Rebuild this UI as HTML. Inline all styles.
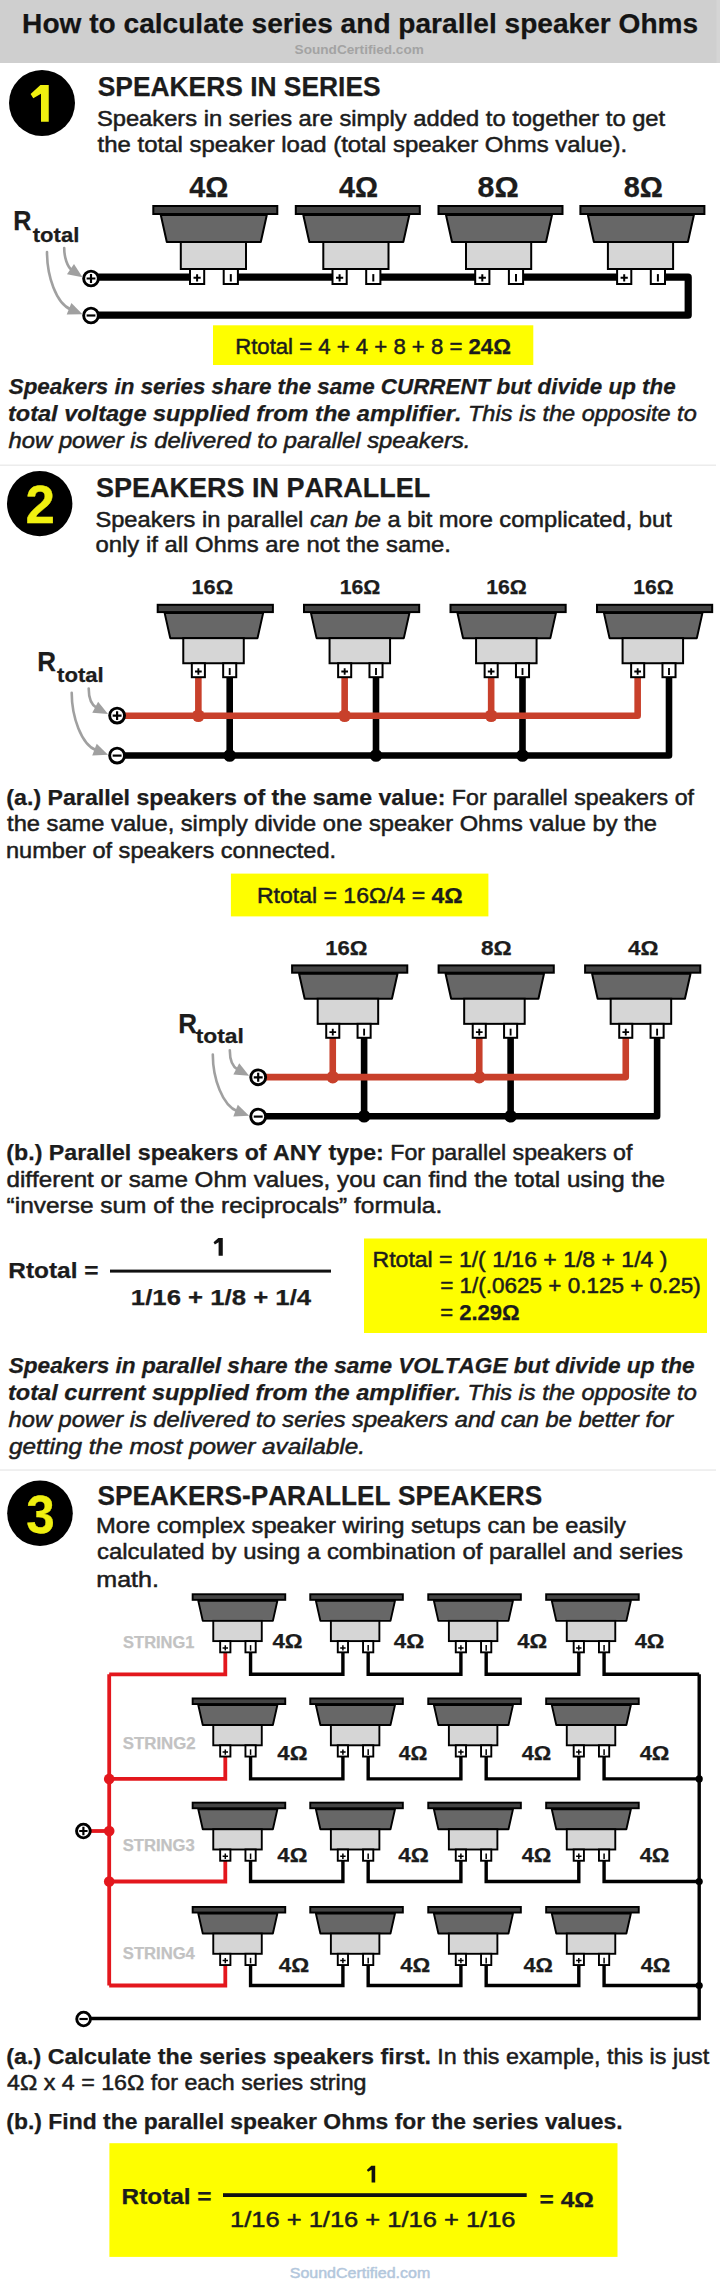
<!DOCTYPE html>
<html><head><meta charset="utf-8"><style>
html,body{margin:0;padding:0;background:#fff;}
svg{display:block;}
text{font-family:"Liberation Sans", sans-serif;font-kerning:none;white-space:pre;}
</style></head><body>
<svg width="720" height="2283" viewBox="0 0 720 2283">
<rect width="720" height="2283" fill="#fff"/>
<rect x="0" y="0" width="720.00" height="63.00" fill="#cfcfcf"/>
<rect x="716.5" y="0" width="3.50" height="63.00" fill="#d5d5d5"/>
<text x="22.12" y="32.60" font-size="27" textLength="676.03" lengthAdjust="spacingAndGlyphs" fill="#141414" font-weight="bold" stroke="#141414" stroke-width="0.25" stroke-linejoin="round">How to calculate series and parallel speaker Ohms</text>
<text x="294.61" y="54.40" font-size="13.6" textLength="129.24" lengthAdjust="spacingAndGlyphs" fill="#a3a3a3" font-weight="bold">SoundCertified.com</text>
<circle cx="42" cy="103" r="33" fill="#000"/>
<polygon points="40.41,85.00 48.74,85.00 48.74,121.70 41.00,121.70 41.00,93.70 33.29,98.21 30.61,93.99" fill="#f0f010"/>
<text x="97.74" y="95.80" font-size="27.5" textLength="282.89" lengthAdjust="spacingAndGlyphs" fill="#1c1c1c" font-weight="bold" stroke="#1c1c1c" stroke-width="0.25" stroke-linejoin="round">SPEAKERS IN SERIES</text>
<text x="96.92" y="125.60" font-size="22" textLength="568.25" lengthAdjust="spacingAndGlyphs" fill="#1c1c1c" stroke="#1c1c1c" stroke-width="0.5" stroke-linejoin="round">Speakers in series are simply added to together to get</text>
<text x="97.64" y="151.60" font-size="22" textLength="529.55" lengthAdjust="spacingAndGlyphs" fill="#1c1c1c" stroke="#1c1c1c" stroke-width="0.5" stroke-linejoin="round">the total speaker load (total speaker Ohms value).</text>
<path d="M91.00 277.20 L197.10 277.20" fill="none" stroke="#000" stroke-width="7.2" stroke-linecap="butt" stroke-linejoin="round"/>
<path d="M230.80 277.20 L339.60 277.20" fill="none" stroke="#000" stroke-width="7.2" stroke-linecap="butt" stroke-linejoin="round"/>
<path d="M373.30 277.20 L482.30 277.20" fill="none" stroke="#000" stroke-width="7.2" stroke-linecap="butt" stroke-linejoin="round"/>
<path d="M516.00 277.20 L624.20 277.20" fill="none" stroke="#000" stroke-width="7.2" stroke-linecap="butt" stroke-linejoin="round"/>
<path d="M657.90 277.20 L688.20 277.20 L688.20 315.20 L91.00 315.20" fill="none" stroke="#000" stroke-width="7.2" stroke-linecap="butt" stroke-linejoin="round"/>
<g><polygon points="160.80,215.00 266.80,215.00 260.80,242.00 166.80,242.00" fill="#676767" stroke="#000" stroke-width="2.0" stroke-linejoin="round"/><rect x="153.30" y="206.00" width="124.00" height="8.00" fill="#444444" stroke="#000" stroke-width="2.0"/><rect x="180.80" y="242.00" width="65.20" height="27.00" fill="#d6d6d6" stroke="#000" stroke-width="2.0"/><rect x="190.00" y="269.00" width="14.20" height="15.00" fill="#fff" stroke="#000" stroke-width="2.0"/><path d="M193.50 277.80H200.70M197.10 274.20V281.40" stroke="#000" stroke-width="2.00"/><rect x="223.70" y="269.00" width="14.20" height="15.00" fill="#fff" stroke="#000" stroke-width="2.0"/><path d="M230.80 274.10V281.50" stroke="#000" stroke-width="2.00"/></g>
<g><polygon points="303.30,215.00 409.30,215.00 403.30,242.00 309.30,242.00" fill="#676767" stroke="#000" stroke-width="2.0" stroke-linejoin="round"/><rect x="295.80" y="206.00" width="124.00" height="8.00" fill="#444444" stroke="#000" stroke-width="2.0"/><rect x="323.30" y="242.00" width="65.20" height="27.00" fill="#d6d6d6" stroke="#000" stroke-width="2.0"/><rect x="332.50" y="269.00" width="14.20" height="15.00" fill="#fff" stroke="#000" stroke-width="2.0"/><path d="M336.00 277.80H343.20M339.60 274.20V281.40" stroke="#000" stroke-width="2.00"/><rect x="366.20" y="269.00" width="14.20" height="15.00" fill="#fff" stroke="#000" stroke-width="2.0"/><path d="M373.30 274.10V281.50" stroke="#000" stroke-width="2.00"/></g>
<g><polygon points="446.00,215.00 552.00,215.00 546.00,242.00 452.00,242.00" fill="#676767" stroke="#000" stroke-width="2.0" stroke-linejoin="round"/><rect x="438.50" y="206.00" width="124.00" height="8.00" fill="#444444" stroke="#000" stroke-width="2.0"/><rect x="466.00" y="242.00" width="65.20" height="27.00" fill="#d6d6d6" stroke="#000" stroke-width="2.0"/><rect x="475.20" y="269.00" width="14.20" height="15.00" fill="#fff" stroke="#000" stroke-width="2.0"/><path d="M478.70 277.80H485.90M482.30 274.20V281.40" stroke="#000" stroke-width="2.00"/><rect x="508.90" y="269.00" width="14.20" height="15.00" fill="#fff" stroke="#000" stroke-width="2.0"/><path d="M516.00 274.10V281.50" stroke="#000" stroke-width="2.00"/></g>
<g><polygon points="587.90,215.00 693.90,215.00 687.90,242.00 593.90,242.00" fill="#676767" stroke="#000" stroke-width="2.0" stroke-linejoin="round"/><rect x="580.40" y="206.00" width="124.00" height="8.00" fill="#444444" stroke="#000" stroke-width="2.0"/><rect x="607.90" y="242.00" width="65.20" height="27.00" fill="#d6d6d6" stroke="#000" stroke-width="2.0"/><rect x="617.10" y="269.00" width="14.20" height="15.00" fill="#fff" stroke="#000" stroke-width="2.0"/><path d="M620.60 277.80H627.80M624.20 274.20V281.40" stroke="#000" stroke-width="2.00"/><rect x="650.80" y="269.00" width="14.20" height="15.00" fill="#fff" stroke="#000" stroke-width="2.0"/><path d="M657.90 274.10V281.50" stroke="#000" stroke-width="2.00"/></g>
<circle cx="91" cy="278.5" r="7.35" fill="#fff" stroke="#000" stroke-width="2.9"/>
<path d="M86.60 278.5H95.40M91 274.10V282.90" stroke="#000" stroke-width="2.17"/>
<circle cx="91" cy="315.5" r="7.35" fill="#fff" stroke="#000" stroke-width="2.9"/>
<path d="M86.60 315.5H95.40" stroke="#000" stroke-width="2.17"/>
<text x="189.36" y="197.00" font-size="28.6" textLength="39.10" lengthAdjust="spacingAndGlyphs" fill="#1c1c1c" font-weight="bold" stroke="#1c1c1c" stroke-width="0.25" stroke-linejoin="round">4Ω</text>
<text x="339.06" y="197.00" font-size="28.6" textLength="39.10" lengthAdjust="spacingAndGlyphs" fill="#1c1c1c" font-weight="bold" stroke="#1c1c1c" stroke-width="0.25" stroke-linejoin="round">4Ω</text>
<text x="477.54" y="197.00" font-size="28.6" textLength="41.19" lengthAdjust="spacingAndGlyphs" fill="#1c1c1c" font-weight="bold" stroke="#1c1c1c" stroke-width="0.25" stroke-linejoin="round">8Ω</text>
<text x="623.68" y="197.00" font-size="28.6" textLength="39.19" lengthAdjust="spacingAndGlyphs" fill="#1c1c1c" font-weight="bold" stroke="#1c1c1c" stroke-width="0.25" stroke-linejoin="round">8Ω</text>
<text x="13.31" y="230.40" font-size="28" textLength="18.20" lengthAdjust="spacingAndGlyphs" fill="#1c1c1c" font-weight="bold" stroke="#1c1c1c" stroke-width="0.25" stroke-linejoin="round">R</text>
<text x="32.73" y="241.80" font-size="20" textLength="46.63" lengthAdjust="spacingAndGlyphs" fill="#1c1c1c" font-weight="bold" stroke="#1c1c1c" stroke-width="0.25" stroke-linejoin="round">total</text>
<path d="M64.20 248.00 C64.20 257.00 67.16 266.85 72.14 270.21" fill="none" stroke="#a0a0a0" stroke-width="2.6" stroke-linecap="round"/>
<polygon points="82.50,277.20 66.98,274.27 73.97,263.91" fill="#a0a0a0"/>
<path d="M47.00 252.00 C47.00 276.00 56.08 303.52 70.91 309.52" fill="none" stroke="#a0a0a0" stroke-width="2.6" stroke-linecap="round"/>
<polygon points="82.50,314.20 66.71,314.56 71.40,302.97" fill="#a0a0a0"/>
<rect x="213" y="325.3" width="320.30" height="39.70" fill="#fefe00"/>
<text x="235.18" y="354.00" font-size="22.5" textLength="227.17" lengthAdjust="spacingAndGlyphs" fill="#1c1c1c" stroke="#1c1c1c" stroke-width="0.5" stroke-linejoin="round">Rtotal = 4 + 4 + 8 + 8 =</text>
<text x="468.51" y="354.00" font-size="22.5" textLength="42.39" lengthAdjust="spacingAndGlyphs" fill="#1c1c1c" font-weight="bold" stroke="#1c1c1c" stroke-width="0.25" stroke-linejoin="round">24Ω</text>
<text x="8.73" y="393.90" font-size="22" textLength="666.90" lengthAdjust="spacingAndGlyphs" fill="#1c1c1c" font-weight="bold" font-style="italic" stroke="#1c1c1c" stroke-width="0.25" stroke-linejoin="round">Speakers in series share the same CURRENT but divide up the</text>
<text x="8.01" y="420.80" font-size="22" textLength="453.43" lengthAdjust="spacingAndGlyphs" fill="#1c1c1c" font-weight="bold" font-style="italic" stroke="#1c1c1c" stroke-width="0.25" stroke-linejoin="round">total voltage supplied from the amplifier.</text>
<text x="467.98" y="420.80" font-size="22" textLength="228.77" lengthAdjust="spacingAndGlyphs" fill="#1c1c1c" font-style="italic" stroke="#1c1c1c" stroke-width="0.5" stroke-linejoin="round">This is the opposite to</text>
<text x="8.60" y="448.00" font-size="22" textLength="461.81" lengthAdjust="spacingAndGlyphs" fill="#1c1c1c" font-style="italic" stroke="#1c1c1c" stroke-width="0.5" stroke-linejoin="round">how power is delivered to parallel speakers.</text>
<rect x="0" y="464.5" width="716.00" height="1.50" fill="#ececec"/>
<circle cx="39.7" cy="503.6" r="32.7" fill="#000"/>
<text x="25.56" y="522.60" font-size="53.63372093023256" textLength="29.46" lengthAdjust="spacingAndGlyphs" fill="#f0f010" font-weight="bold" stroke="#f0f010" stroke-width="0.3" stroke-linejoin="round">2</text>
<text x="95.92" y="496.70" font-size="27.5" textLength="334.41" lengthAdjust="spacingAndGlyphs" fill="#1c1c1c" font-weight="bold" stroke="#1c1c1c" stroke-width="0.25" stroke-linejoin="round">SPEAKERS IN PARALLEL</text>
<text x="95.43" y="526.70" font-size="22" textLength="207.91" lengthAdjust="spacingAndGlyphs" fill="#1c1c1c" stroke="#1c1c1c" stroke-width="0.5" stroke-linejoin="round">Speakers in parallel</text>
<text x="309.91" y="526.70" font-size="22" textLength="71.08" lengthAdjust="spacingAndGlyphs" fill="#1c1c1c" font-style="italic" stroke="#1c1c1c" stroke-width="0.5" stroke-linejoin="round">can be</text>
<text x="387.56" y="526.70" font-size="22" textLength="284.21" lengthAdjust="spacingAndGlyphs" fill="#1c1c1c" stroke="#1c1c1c" stroke-width="0.5" stroke-linejoin="round">a bit more complicated, but</text>
<text x="95.50" y="552.30" font-size="22" textLength="355.48" lengthAdjust="spacingAndGlyphs" fill="#1c1c1c" stroke="#1c1c1c" stroke-width="0.5" stroke-linejoin="round">only if all Ohms are not the same.</text>
<path d="M229.70 677.20 L229.70 755.50" fill="none" stroke="#000" stroke-width="6.6" stroke-linecap="butt" stroke-linejoin="round"/>
<path d="M376.00 677.20 L376.00 755.50" fill="none" stroke="#000" stroke-width="6.6" stroke-linecap="butt" stroke-linejoin="round"/>
<path d="M522.50 677.20 L522.50 755.50" fill="none" stroke="#000" stroke-width="6.6" stroke-linecap="butt" stroke-linejoin="round"/>
<path d="M117.10 755.50 L669.00 755.50 L669.00 677.20" fill="none" stroke="#000" stroke-width="6.6" stroke-linecap="butt" stroke-linejoin="round"/>
<path d="M198.36 677.20 L198.36 715.80" fill="none" stroke="#c8402b" stroke-width="6.6" stroke-linecap="butt" stroke-linejoin="round"/>
<path d="M344.66 677.20 L344.66 715.80" fill="none" stroke="#c8402b" stroke-width="6.6" stroke-linecap="butt" stroke-linejoin="round"/>
<path d="M491.16 677.20 L491.16 715.80" fill="none" stroke="#c8402b" stroke-width="6.6" stroke-linecap="butt" stroke-linejoin="round"/>
<path d="M117.10 715.80 L637.66 715.80 L637.66 677.20" fill="none" stroke="#c8402b" stroke-width="6.6" stroke-linecap="butt" stroke-linejoin="round"/>
<circle cx="198.36" cy="715.80" r="6.3" fill="#c8402b"/>
<circle cx="344.66" cy="715.80" r="6.3" fill="#c8402b"/>
<circle cx="491.16" cy="715.80" r="6.3" fill="#c8402b"/>
<circle cx="229.70" cy="755.50" r="6.3" fill="#000"/>
<circle cx="376.00" cy="755.50" r="6.3" fill="#000"/>
<circle cx="522.50" cy="755.50" r="6.3" fill="#000"/>
<g><polygon points="164.67,613.10 263.12,613.10 257.53,638.14 170.25,638.14" fill="#676767" stroke="#000" stroke-width="2.0" stroke-linejoin="round"/><rect x="157.70" y="604.80" width="115.18" height="7.30" fill="#444444" stroke="#000" stroke-width="2.0"/><rect x="183.27" y="638.14" width="60.50" height="25.11" fill="#d6d6d6" stroke="#000" stroke-width="2.0"/><rect x="191.83" y="663.25" width="13.07" height="13.95" fill="#fff" stroke="#000" stroke-width="2.0"/><path d="M195.02 671.50H201.71M198.36 668.16V674.85" stroke="#000" stroke-width="1.86"/><rect x="223.17" y="663.25" width="13.07" height="13.95" fill="#fff" stroke="#000" stroke-width="2.0"/><path d="M229.70 668.06V674.94" stroke="#000" stroke-width="1.86"/></g>
<g><polygon points="310.98,613.10 409.42,613.10 403.84,638.14 316.56,638.14" fill="#676767" stroke="#000" stroke-width="2.0" stroke-linejoin="round"/><rect x="304.00" y="604.80" width="115.18" height="7.30" fill="#444444" stroke="#000" stroke-width="2.0"/><rect x="329.57" y="638.14" width="60.50" height="25.11" fill="#d6d6d6" stroke="#000" stroke-width="2.0"/><rect x="338.13" y="663.25" width="13.07" height="13.95" fill="#fff" stroke="#000" stroke-width="2.0"/><path d="M341.32 671.50H348.01M344.66 668.16V674.85" stroke="#000" stroke-width="1.86"/><rect x="369.47" y="663.25" width="13.07" height="13.95" fill="#fff" stroke="#000" stroke-width="2.0"/><path d="M376.00 668.06V674.94" stroke="#000" stroke-width="1.86"/></g>
<g><polygon points="457.48,613.10 555.91,613.10 550.34,638.14 463.06,638.14" fill="#676767" stroke="#000" stroke-width="2.0" stroke-linejoin="round"/><rect x="450.50" y="604.80" width="115.18" height="7.30" fill="#444444" stroke="#000" stroke-width="2.0"/><rect x="476.07" y="638.14" width="60.50" height="25.11" fill="#d6d6d6" stroke="#000" stroke-width="2.0"/><rect x="484.63" y="663.25" width="13.07" height="13.95" fill="#fff" stroke="#000" stroke-width="2.0"/><path d="M487.82 671.50H494.51M491.16 668.16V674.85" stroke="#000" stroke-width="1.86"/><rect x="515.97" y="663.25" width="13.07" height="13.95" fill="#fff" stroke="#000" stroke-width="2.0"/><path d="M522.50 668.06V674.94" stroke="#000" stroke-width="1.86"/></g>
<g><polygon points="603.98,613.10 702.41,613.10 696.84,638.14 609.55,638.14" fill="#676767" stroke="#000" stroke-width="2.0" stroke-linejoin="round"/><rect x="597.00" y="604.80" width="115.18" height="7.30" fill="#444444" stroke="#000" stroke-width="2.0"/><rect x="622.58" y="638.14" width="60.50" height="25.11" fill="#d6d6d6" stroke="#000" stroke-width="2.0"/><rect x="631.13" y="663.25" width="13.07" height="13.95" fill="#fff" stroke="#000" stroke-width="2.0"/><path d="M634.32 671.50H641.01M637.66 668.16V674.85" stroke="#000" stroke-width="1.86"/><rect x="662.47" y="663.25" width="13.07" height="13.95" fill="#fff" stroke="#000" stroke-width="2.0"/><path d="M669.00 668.06V674.94" stroke="#000" stroke-width="1.86"/></g>
<circle cx="117.1" cy="715.6" r="7.45" fill="#fff" stroke="#000" stroke-width="2.9"/>
<path d="M112.65 715.6H121.55M117.1 711.15V720.05" stroke="#000" stroke-width="2.17"/>
<circle cx="117.1" cy="755.6" r="7.45" fill="#fff" stroke="#000" stroke-width="2.9"/>
<path d="M112.65 755.6H121.55" stroke="#000" stroke-width="2.17"/>
<text x="191.53" y="594.00" font-size="20.5" textLength="41.55" lengthAdjust="spacingAndGlyphs" fill="#1c1c1c" font-weight="bold" stroke="#1c1c1c" stroke-width="0.25" stroke-linejoin="round">16Ω</text>
<text x="339.66" y="594.00" font-size="20.5" textLength="40.70" lengthAdjust="spacingAndGlyphs" fill="#1c1c1c" font-weight="bold" stroke="#1c1c1c" stroke-width="0.25" stroke-linejoin="round">16Ω</text>
<text x="486.26" y="594.00" font-size="20.5" textLength="40.60" lengthAdjust="spacingAndGlyphs" fill="#1c1c1c" font-weight="bold" stroke="#1c1c1c" stroke-width="0.25" stroke-linejoin="round">16Ω</text>
<text x="633.27" y="594.00" font-size="20.5" textLength="40.38" lengthAdjust="spacingAndGlyphs" fill="#1c1c1c" font-weight="bold" stroke="#1c1c1c" stroke-width="0.25" stroke-linejoin="round">16Ω</text>
<text x="37.16" y="671.10" font-size="28" textLength="18.77" lengthAdjust="spacingAndGlyphs" fill="#1c1c1c" font-weight="bold" stroke="#1c1c1c" stroke-width="0.25" stroke-linejoin="round">R</text>
<text x="57.03" y="682.20" font-size="20" textLength="46.74" lengthAdjust="spacingAndGlyphs" fill="#1c1c1c" font-weight="bold" stroke="#1c1c1c" stroke-width="0.25" stroke-linejoin="round">total</text>
<path d="M88.70 688.50 C88.70 697.50 91.67 705.31 96.96 708.13" fill="none" stroke="#a0a0a0" stroke-width="2.6" stroke-linecap="round"/>
<polygon points="108.00,714.00 92.26,712.71 98.13,701.67" fill="#a0a0a0"/>
<path d="M71.70 692.80 C71.70 716.80 81.39 744.59 96.33 750.32" fill="none" stroke="#a0a0a0" stroke-width="2.6" stroke-linecap="round"/>
<polygon points="108.00,754.80 92.22,755.44 96.70,743.77" fill="#a0a0a0"/>
<text x="6.35" y="804.50" font-size="22" textLength="439.10" lengthAdjust="spacingAndGlyphs" fill="#1c1c1c" font-weight="bold" stroke="#1c1c1c" stroke-width="0.25" stroke-linejoin="round">(a.) Parallel speakers of the same value:</text>
<text x="451.89" y="804.50" font-size="22" textLength="242.08" lengthAdjust="spacingAndGlyphs" fill="#1c1c1c" stroke="#1c1c1c" stroke-width="0.5" stroke-linejoin="round">For parallel speakers of</text>
<text x="7.14" y="831.00" font-size="22" textLength="649.91" lengthAdjust="spacingAndGlyphs" fill="#1c1c1c" stroke="#1c1c1c" stroke-width="0.5" stroke-linejoin="round">the same value, simply divide one speaker Ohms value by the</text>
<text x="5.93" y="857.50" font-size="22" textLength="330.22" lengthAdjust="spacingAndGlyphs" fill="#1c1c1c" stroke="#1c1c1c" stroke-width="0.5" stroke-linejoin="round">number of speakers connected.</text>
<rect x="230.9" y="873.6" width="257.50" height="42.80" fill="#fefe00"/>
<text x="257.01" y="902.80" font-size="22.5" textLength="168.18" lengthAdjust="spacingAndGlyphs" fill="#1c1c1c" stroke="#1c1c1c" stroke-width="0.5" stroke-linejoin="round">Rtotal = 16Ω/4 =</text>
<text x="431.58" y="902.80" font-size="22.5" textLength="31.25" lengthAdjust="spacingAndGlyphs" fill="#1c1c1c" font-weight="bold" stroke="#1c1c1c" stroke-width="0.25" stroke-linejoin="round">4Ω</text>
<path d="M364.11 1037.80 L364.11 1116.30" fill="none" stroke="#000" stroke-width="6.6" stroke-linecap="butt" stroke-linejoin="round"/>
<path d="M510.61 1037.80 L510.61 1116.30" fill="none" stroke="#000" stroke-width="6.6" stroke-linecap="butt" stroke-linejoin="round"/>
<path d="M258.20 1116.30 L657.11 1116.30 L657.11 1037.80" fill="none" stroke="#000" stroke-width="6.6" stroke-linecap="butt" stroke-linejoin="round"/>
<path d="M332.76 1037.80 L332.76 1077.10" fill="none" stroke="#c8402b" stroke-width="6.6" stroke-linecap="butt" stroke-linejoin="round"/>
<path d="M479.26 1037.80 L479.26 1077.10" fill="none" stroke="#c8402b" stroke-width="6.6" stroke-linecap="butt" stroke-linejoin="round"/>
<path d="M258.20 1077.10 L625.76 1077.10 L625.76 1037.80" fill="none" stroke="#c8402b" stroke-width="6.6" stroke-linecap="butt" stroke-linejoin="round"/>
<circle cx="332.76" cy="1077.10" r="6.3" fill="#c8402b"/>
<circle cx="479.26" cy="1077.10" r="6.3" fill="#c8402b"/>
<circle cx="364.11" cy="1116.30" r="6.3" fill="#000"/>
<circle cx="510.61" cy="1116.30" r="6.3" fill="#000"/>
<g><polygon points="299.08,973.70 397.52,973.70 391.94,998.74 304.66,998.74" fill="#676767" stroke="#000" stroke-width="2.0" stroke-linejoin="round"/><rect x="292.10" y="965.40" width="115.18" height="7.30" fill="#444444" stroke="#000" stroke-width="2.0"/><rect x="317.68" y="998.74" width="60.50" height="25.11" fill="#d6d6d6" stroke="#000" stroke-width="2.0"/><rect x="326.23" y="1023.85" width="13.07" height="13.95" fill="#fff" stroke="#000" stroke-width="2.0"/><path d="M329.42 1032.10H336.11M332.76 1028.76V1035.45" stroke="#000" stroke-width="1.86"/><rect x="357.57" y="1023.85" width="13.07" height="13.95" fill="#fff" stroke="#000" stroke-width="2.0"/><path d="M364.11 1028.66V1035.55" stroke="#000" stroke-width="1.86"/></g>
<g><polygon points="445.58,973.70 544.01,973.70 538.44,998.74 451.16,998.74" fill="#676767" stroke="#000" stroke-width="2.0" stroke-linejoin="round"/><rect x="438.60" y="965.40" width="115.18" height="7.30" fill="#444444" stroke="#000" stroke-width="2.0"/><rect x="464.18" y="998.74" width="60.50" height="25.11" fill="#d6d6d6" stroke="#000" stroke-width="2.0"/><rect x="472.73" y="1023.85" width="13.07" height="13.95" fill="#fff" stroke="#000" stroke-width="2.0"/><path d="M475.92 1032.10H482.61M479.26 1028.76V1035.45" stroke="#000" stroke-width="1.86"/><rect x="504.07" y="1023.85" width="13.07" height="13.95" fill="#fff" stroke="#000" stroke-width="2.0"/><path d="M510.61 1028.66V1035.55" stroke="#000" stroke-width="1.86"/></g>
<g><polygon points="592.08,973.70 690.51,973.70 684.94,998.74 597.65,998.74" fill="#676767" stroke="#000" stroke-width="2.0" stroke-linejoin="round"/><rect x="585.10" y="965.40" width="115.18" height="7.30" fill="#444444" stroke="#000" stroke-width="2.0"/><rect x="610.68" y="998.74" width="60.50" height="25.11" fill="#d6d6d6" stroke="#000" stroke-width="2.0"/><rect x="619.23" y="1023.85" width="13.07" height="13.95" fill="#fff" stroke="#000" stroke-width="2.0"/><path d="M622.42 1032.10H629.11M625.76 1028.76V1035.45" stroke="#000" stroke-width="1.86"/><rect x="650.57" y="1023.85" width="13.07" height="13.95" fill="#fff" stroke="#000" stroke-width="2.0"/><path d="M657.11 1028.66V1035.55" stroke="#000" stroke-width="1.86"/></g>
<circle cx="258.2" cy="1077.3" r="7.45" fill="#fff" stroke="#000" stroke-width="2.9"/>
<path d="M253.75 1077.3H262.65M258.2 1072.85V1081.75" stroke="#000" stroke-width="2.17"/>
<circle cx="258.2" cy="1116.6" r="7.45" fill="#fff" stroke="#000" stroke-width="2.9"/>
<path d="M253.75 1116.6H262.65" stroke="#000" stroke-width="2.17"/>
<text x="325.31" y="955.00" font-size="20.5" textLength="42.29" lengthAdjust="spacingAndGlyphs" fill="#1c1c1c" font-weight="bold" stroke="#1c1c1c" stroke-width="0.25" stroke-linejoin="round">16Ω</text>
<text x="480.98" y="955.00" font-size="20.5" textLength="30.74" lengthAdjust="spacingAndGlyphs" fill="#1c1c1c" font-weight="bold" stroke="#1c1c1c" stroke-width="0.25" stroke-linejoin="round">8Ω</text>
<text x="627.96" y="955.00" font-size="20.5" textLength="30.45" lengthAdjust="spacingAndGlyphs" fill="#1c1c1c" font-weight="bold" stroke="#1c1c1c" stroke-width="0.25" stroke-linejoin="round">4Ω</text>
<text x="178.16" y="1032.90" font-size="28" textLength="18.77" lengthAdjust="spacingAndGlyphs" fill="#1c1c1c" font-weight="bold" stroke="#1c1c1c" stroke-width="0.25" stroke-linejoin="round">R</text>
<text x="195.72" y="1042.60" font-size="20" textLength="48.20" lengthAdjust="spacingAndGlyphs" fill="#1c1c1c" font-weight="bold" stroke="#1c1c1c" stroke-width="0.25" stroke-linejoin="round">total</text>
<path d="M229.80 1050.20 C229.80 1059.20 232.77 1067.01 238.06 1069.83" fill="none" stroke="#a0a0a0" stroke-width="2.6" stroke-linecap="round"/>
<polygon points="249.10,1075.70 233.36,1074.41 239.23,1063.37" fill="#a0a0a0"/>
<path d="M212.80 1054.50 C212.80 1078.50 222.49 1105.59 237.43 1111.32" fill="none" stroke="#a0a0a0" stroke-width="2.6" stroke-linecap="round"/>
<polygon points="249.10,1115.80 233.32,1116.44 237.80,1104.77" fill="#a0a0a0"/>
<text x="6.35" y="1160.00" font-size="22" textLength="377.46" lengthAdjust="spacingAndGlyphs" fill="#1c1c1c" font-weight="bold" stroke="#1c1c1c" stroke-width="0.25" stroke-linejoin="round">(b.) Parallel speakers of ANY type:</text>
<text x="390.24" y="1160.00" font-size="22" textLength="242.22" lengthAdjust="spacingAndGlyphs" fill="#1c1c1c" stroke="#1c1c1c" stroke-width="0.5" stroke-linejoin="round">For parallel speakers of</text>
<text x="6.48" y="1186.50" font-size="22" textLength="658.59" lengthAdjust="spacingAndGlyphs" fill="#1c1c1c" stroke="#1c1c1c" stroke-width="0.5" stroke-linejoin="round">different or same Ohm values, you can find the total using the</text>
<text x="6.61" y="1212.50" font-size="22" textLength="435.62" lengthAdjust="spacingAndGlyphs" fill="#1c1c1c" stroke="#1c1c1c" stroke-width="0.5" stroke-linejoin="round">“inverse sum of the reciprocals” formula.</text>
<text x="8.37" y="1277.50" font-size="21.8" textLength="90.13" lengthAdjust="spacingAndGlyphs" fill="#1c1c1c" font-weight="bold" stroke="#1c1c1c" stroke-width="0.25" stroke-linejoin="round">Rtotal =</text>
<rect x="110" y="1269.6" width="221.00" height="3.00" fill="#111"/>
<polygon points="218.32,1238.00 222.78,1238.00 222.78,1255.80 218.60,1255.80 218.60,1242.22 214.86,1244.41 213.56,1242.36" fill="#111"/>
<text x="130.88" y="1305.00" font-size="21.8" textLength="180.26" lengthAdjust="spacingAndGlyphs" fill="#1c1c1c" font-weight="bold" stroke="#1c1c1c" stroke-width="0.25" stroke-linejoin="round">1/16 + 1/8 + 1/4</text>
<rect x="364" y="1238.5" width="343.00" height="94.50" fill="#fefe00"/>
<text x="372.61" y="1267.00" font-size="22" textLength="294.81" lengthAdjust="spacingAndGlyphs" fill="#1c1c1c" stroke="#1c1c1c" stroke-width="0.5" stroke-linejoin="round">Rtotal = 1/( 1/16 + 1/8 + 1/4 )</text>
<text x="440.20" y="1292.80" font-size="22" textLength="260.59" lengthAdjust="spacingAndGlyphs" fill="#1c1c1c" stroke="#1c1c1c" stroke-width="0.5" stroke-linejoin="round">= 1/(.0625 + 0.125 + 0.25)</text>
<text x="440.23" y="1319.50" font-size="22" textLength="12.86" lengthAdjust="spacingAndGlyphs" fill="#1c1c1c" stroke="#1c1c1c" stroke-width="0.5" stroke-linejoin="round">=</text>
<text x="459.20" y="1319.50" font-size="22" textLength="60.50" lengthAdjust="spacingAndGlyphs" fill="#1c1c1c" font-weight="bold" stroke="#1c1c1c" stroke-width="0.25" stroke-linejoin="round">2.29Ω</text>
<text x="8.72" y="1372.50" font-size="22" textLength="685.91" lengthAdjust="spacingAndGlyphs" fill="#1c1c1c" font-weight="bold" font-style="italic" stroke="#1c1c1c" stroke-width="0.25" stroke-linejoin="round">Speakers in parallel share the same VOLTAGE but divide up the</text>
<text x="8.01" y="1400.00" font-size="22" textLength="452.98" lengthAdjust="spacingAndGlyphs" fill="#1c1c1c" font-weight="bold" font-style="italic" stroke="#1c1c1c" stroke-width="0.25" stroke-linejoin="round">total current supplied from the amplifier.</text>
<text x="467.54" y="1400.00" font-size="22" textLength="229.21" lengthAdjust="spacingAndGlyphs" fill="#1c1c1c" font-style="italic" stroke="#1c1c1c" stroke-width="0.5" stroke-linejoin="round">This is the opposite to</text>
<text x="8.61" y="1427.30" font-size="22" textLength="664.60" lengthAdjust="spacingAndGlyphs" fill="#1c1c1c" font-style="italic" stroke="#1c1c1c" stroke-width="0.5" stroke-linejoin="round">how power is delivered to series speakers and can be better for</text>
<text x="8.95" y="1454.30" font-size="22" textLength="356.03" lengthAdjust="spacingAndGlyphs" fill="#1c1c1c" font-style="italic" stroke="#1c1c1c" stroke-width="0.5" stroke-linejoin="round">getting the most power available.</text>
<rect x="0" y="1469.3" width="716.00" height="1.50" fill="#ececec"/>
<circle cx="40" cy="1513.3" r="32.8" fill="#000"/>
<text x="26.22" y="1532.60" font-size="53.63372093023256" textLength="28.53" lengthAdjust="spacingAndGlyphs" fill="#f0f010" font-weight="bold" stroke="#f0f010" stroke-width="0.3" stroke-linejoin="round">3</text>
<text x="97.54" y="1505.00" font-size="27.5" textLength="444.78" lengthAdjust="spacingAndGlyphs" fill="#1c1c1c" font-weight="bold" stroke="#1c1c1c" stroke-width="0.25" stroke-linejoin="round">SPEAKERS-PARALLEL SPEAKERS</text>
<text x="96.05" y="1533.30" font-size="22" textLength="529.79" lengthAdjust="spacingAndGlyphs" fill="#1c1c1c" stroke="#1c1c1c" stroke-width="0.5" stroke-linejoin="round">More complex speaker wiring setups can be easily</text>
<text x="96.98" y="1559.30" font-size="22" textLength="586.08" lengthAdjust="spacingAndGlyphs" fill="#1c1c1c" stroke="#1c1c1c" stroke-width="0.5" stroke-linejoin="round">calculated by using a combination of parallel and series</text>
<text x="96.34" y="1586.50" font-size="22" textLength="62.65" lengthAdjust="spacingAndGlyphs" fill="#1c1c1c" stroke="#1c1c1c" stroke-width="0.5" stroke-linejoin="round">math.</text>
<path d="M225.30 1652.30 L225.30 1674.30 L109.20 1674.30" fill="none" stroke="#e3171d" stroke-width="3.8" stroke-linecap="butt" stroke-linejoin="miter"/>
<path d="M225.30 1756.50 L225.30 1778.90 L109.20 1778.90" fill="none" stroke="#e3171d" stroke-width="3.8" stroke-linecap="butt" stroke-linejoin="miter"/>
<path d="M225.30 1860.70 L225.30 1881.50 L109.20 1881.50" fill="none" stroke="#e3171d" stroke-width="3.8" stroke-linecap="butt" stroke-linejoin="miter"/>
<path d="M225.30 1965.00 L225.30 1985.50 L109.20 1985.50" fill="none" stroke="#e3171d" stroke-width="3.8" stroke-linecap="butt" stroke-linejoin="miter"/>
<path d="M109.20 1674.30 L109.20 1985.50" fill="none" stroke="#e3171d" stroke-width="3.8" stroke-linecap="butt" stroke-linejoin="round"/>
<path d="M84.00 1831.00 L109.20 1831.00" fill="none" stroke="#e3171d" stroke-width="3.8" stroke-linecap="butt" stroke-linejoin="round"/>
<circle cx="109.20" cy="1778.90" r="5.3" fill="#e3171d"/>
<circle cx="109.20" cy="1831.00" r="5.3" fill="#e3171d"/>
<circle cx="109.20" cy="1881.50" r="5.3" fill="#e3171d"/>
<path d="M250.57 1652.30 L250.57 1674.30 L342.90 1674.30 L342.90 1652.30" fill="none" stroke="#000" stroke-width="3.4" stroke-linecap="butt" stroke-linejoin="miter"/>
<path d="M368.18 1652.30 L368.18 1674.30 L460.90 1674.30 L460.90 1652.30" fill="none" stroke="#000" stroke-width="3.4" stroke-linecap="butt" stroke-linejoin="miter"/>
<path d="M486.18 1652.30 L486.18 1674.30 L578.80 1674.30 L578.80 1652.30" fill="none" stroke="#000" stroke-width="3.4" stroke-linecap="butt" stroke-linejoin="miter"/>
<path d="M604.08 1652.30 L604.08 1674.30 L699.20 1674.30" fill="none" stroke="#000" stroke-width="3.4" stroke-linecap="butt" stroke-linejoin="miter"/>
<path d="M250.57 1756.50 L250.57 1778.90 L342.90 1778.90 L342.90 1756.50" fill="none" stroke="#000" stroke-width="3.4" stroke-linecap="butt" stroke-linejoin="miter"/>
<path d="M368.18 1756.50 L368.18 1778.90 L460.90 1778.90 L460.90 1756.50" fill="none" stroke="#000" stroke-width="3.4" stroke-linecap="butt" stroke-linejoin="miter"/>
<path d="M486.18 1756.50 L486.18 1778.90 L578.80 1778.90 L578.80 1756.50" fill="none" stroke="#000" stroke-width="3.4" stroke-linecap="butt" stroke-linejoin="miter"/>
<path d="M604.08 1756.50 L604.08 1778.90 L699.20 1778.90" fill="none" stroke="#000" stroke-width="3.4" stroke-linecap="butt" stroke-linejoin="miter"/>
<path d="M250.57 1860.70 L250.57 1881.50 L342.90 1881.50 L342.90 1860.70" fill="none" stroke="#000" stroke-width="3.4" stroke-linecap="butt" stroke-linejoin="miter"/>
<path d="M368.18 1860.70 L368.18 1881.50 L460.90 1881.50 L460.90 1860.70" fill="none" stroke="#000" stroke-width="3.4" stroke-linecap="butt" stroke-linejoin="miter"/>
<path d="M486.18 1860.70 L486.18 1881.50 L578.80 1881.50 L578.80 1860.70" fill="none" stroke="#000" stroke-width="3.4" stroke-linecap="butt" stroke-linejoin="miter"/>
<path d="M604.08 1860.70 L604.08 1881.50 L699.20 1881.50" fill="none" stroke="#000" stroke-width="3.4" stroke-linecap="butt" stroke-linejoin="miter"/>
<path d="M250.57 1965.00 L250.57 1985.50 L342.90 1985.50 L342.90 1965.00" fill="none" stroke="#000" stroke-width="3.4" stroke-linecap="butt" stroke-linejoin="miter"/>
<path d="M368.18 1965.00 L368.18 1985.50 L460.90 1985.50 L460.90 1965.00" fill="none" stroke="#000" stroke-width="3.4" stroke-linecap="butt" stroke-linejoin="miter"/>
<path d="M486.18 1965.00 L486.18 1985.50 L578.80 1985.50 L578.80 1965.00" fill="none" stroke="#000" stroke-width="3.4" stroke-linecap="butt" stroke-linejoin="miter"/>
<path d="M604.08 1965.00 L604.08 1985.50 L699.20 1985.50" fill="none" stroke="#000" stroke-width="3.4" stroke-linecap="butt" stroke-linejoin="miter"/>
<path d="M699.20 1674.30 L699.20 2018.50 L84.00 2018.50" fill="none" stroke="#000" stroke-width="3.4" stroke-linecap="butt" stroke-linejoin="miter"/>
<circle cx="699.20" cy="1778.90" r="3.6" fill="#000"/>
<circle cx="699.20" cy="1881.50" r="3.6" fill="#000"/>
<circle cx="699.20" cy="1985.50" r="3.6" fill="#000"/>
<g><polygon points="198.27,1600.80 277.38,1600.80 272.88,1620.85 202.77,1620.85" fill="#676767" stroke="#000" stroke-width="1.9" stroke-linejoin="round"/><rect x="192.65" y="1594.25" width="92.60" height="5.60" fill="#444444" stroke="#000" stroke-width="1.9"/><rect x="213.27" y="1620.85" width="48.50" height="20.25" fill="#d6d6d6" stroke="#000" stroke-width="1.9"/><rect x="220.17" y="1641.10" width="10.25" height="11.25" fill="#fff" stroke="#000" stroke-width="1.9"/><path d="M222.60 1647.90H228.00M225.30 1645.20V1650.60" stroke="#000" stroke-width="1.50"/><rect x="245.45" y="1641.10" width="10.25" height="11.25" fill="#fff" stroke="#000" stroke-width="1.9"/><path d="M250.57 1645.12V1650.67" stroke="#000" stroke-width="1.50"/></g>
<g><polygon points="315.88,1600.80 394.98,1600.80 390.48,1620.85 320.38,1620.85" fill="#676767" stroke="#000" stroke-width="1.9" stroke-linejoin="round"/><rect x="310.25" y="1594.25" width="92.60" height="5.60" fill="#444444" stroke="#000" stroke-width="1.9"/><rect x="330.88" y="1620.85" width="48.50" height="20.25" fill="#d6d6d6" stroke="#000" stroke-width="1.9"/><rect x="337.77" y="1641.10" width="10.25" height="11.25" fill="#fff" stroke="#000" stroke-width="1.9"/><path d="M340.20 1647.90H345.60M342.90 1645.20V1650.60" stroke="#000" stroke-width="1.50"/><rect x="363.05" y="1641.10" width="10.25" height="11.25" fill="#fff" stroke="#000" stroke-width="1.9"/><path d="M368.18 1645.12V1650.67" stroke="#000" stroke-width="1.50"/></g>
<g><polygon points="433.88,1600.80 512.97,1600.80 508.48,1620.85 438.38,1620.85" fill="#676767" stroke="#000" stroke-width="1.9" stroke-linejoin="round"/><rect x="428.25" y="1594.25" width="92.60" height="5.60" fill="#444444" stroke="#000" stroke-width="1.9"/><rect x="448.88" y="1620.85" width="48.50" height="20.25" fill="#d6d6d6" stroke="#000" stroke-width="1.9"/><rect x="455.77" y="1641.10" width="10.25" height="11.25" fill="#fff" stroke="#000" stroke-width="1.9"/><path d="M458.20 1647.90H463.60M460.90 1645.20V1650.60" stroke="#000" stroke-width="1.50"/><rect x="481.05" y="1641.10" width="10.25" height="11.25" fill="#fff" stroke="#000" stroke-width="1.9"/><path d="M486.18 1645.12V1650.67" stroke="#000" stroke-width="1.50"/></g>
<g><polygon points="551.78,1600.80 630.88,1600.80 626.38,1620.85 556.28,1620.85" fill="#676767" stroke="#000" stroke-width="1.9" stroke-linejoin="round"/><rect x="546.15" y="1594.25" width="92.60" height="5.60" fill="#444444" stroke="#000" stroke-width="1.9"/><rect x="566.78" y="1620.85" width="48.50" height="20.25" fill="#d6d6d6" stroke="#000" stroke-width="1.9"/><rect x="573.68" y="1641.10" width="10.25" height="11.25" fill="#fff" stroke="#000" stroke-width="1.9"/><path d="M576.10 1647.90H581.50M578.80 1645.20V1650.60" stroke="#000" stroke-width="1.50"/><rect x="598.95" y="1641.10" width="10.25" height="11.25" fill="#fff" stroke="#000" stroke-width="1.9"/><path d="M604.08 1645.12V1650.67" stroke="#000" stroke-width="1.50"/></g>
<g><polygon points="198.27,1705.00 277.38,1705.00 272.88,1725.05 202.77,1725.05" fill="#676767" stroke="#000" stroke-width="1.9" stroke-linejoin="round"/><rect x="192.65" y="1698.45" width="92.60" height="5.60" fill="#444444" stroke="#000" stroke-width="1.9"/><rect x="213.27" y="1725.05" width="48.50" height="20.25" fill="#d6d6d6" stroke="#000" stroke-width="1.9"/><rect x="220.17" y="1745.30" width="10.25" height="11.25" fill="#fff" stroke="#000" stroke-width="1.9"/><path d="M222.60 1752.10H228.00M225.30 1749.40V1754.80" stroke="#000" stroke-width="1.50"/><rect x="245.45" y="1745.30" width="10.25" height="11.25" fill="#fff" stroke="#000" stroke-width="1.9"/><path d="M250.57 1749.32V1754.88" stroke="#000" stroke-width="1.50"/></g>
<g><polygon points="315.88,1705.00 394.98,1705.00 390.48,1725.05 320.38,1725.05" fill="#676767" stroke="#000" stroke-width="1.9" stroke-linejoin="round"/><rect x="310.25" y="1698.45" width="92.60" height="5.60" fill="#444444" stroke="#000" stroke-width="1.9"/><rect x="330.88" y="1725.05" width="48.50" height="20.25" fill="#d6d6d6" stroke="#000" stroke-width="1.9"/><rect x="337.77" y="1745.30" width="10.25" height="11.25" fill="#fff" stroke="#000" stroke-width="1.9"/><path d="M340.20 1752.10H345.60M342.90 1749.40V1754.80" stroke="#000" stroke-width="1.50"/><rect x="363.05" y="1745.30" width="10.25" height="11.25" fill="#fff" stroke="#000" stroke-width="1.9"/><path d="M368.18 1749.32V1754.88" stroke="#000" stroke-width="1.50"/></g>
<g><polygon points="433.88,1705.00 512.97,1705.00 508.48,1725.05 438.38,1725.05" fill="#676767" stroke="#000" stroke-width="1.9" stroke-linejoin="round"/><rect x="428.25" y="1698.45" width="92.60" height="5.60" fill="#444444" stroke="#000" stroke-width="1.9"/><rect x="448.88" y="1725.05" width="48.50" height="20.25" fill="#d6d6d6" stroke="#000" stroke-width="1.9"/><rect x="455.77" y="1745.30" width="10.25" height="11.25" fill="#fff" stroke="#000" stroke-width="1.9"/><path d="M458.20 1752.10H463.60M460.90 1749.40V1754.80" stroke="#000" stroke-width="1.50"/><rect x="481.05" y="1745.30" width="10.25" height="11.25" fill="#fff" stroke="#000" stroke-width="1.9"/><path d="M486.18 1749.32V1754.88" stroke="#000" stroke-width="1.50"/></g>
<g><polygon points="551.78,1705.00 630.88,1705.00 626.38,1725.05 556.28,1725.05" fill="#676767" stroke="#000" stroke-width="1.9" stroke-linejoin="round"/><rect x="546.15" y="1698.45" width="92.60" height="5.60" fill="#444444" stroke="#000" stroke-width="1.9"/><rect x="566.78" y="1725.05" width="48.50" height="20.25" fill="#d6d6d6" stroke="#000" stroke-width="1.9"/><rect x="573.68" y="1745.30" width="10.25" height="11.25" fill="#fff" stroke="#000" stroke-width="1.9"/><path d="M576.10 1752.10H581.50M578.80 1749.40V1754.80" stroke="#000" stroke-width="1.50"/><rect x="598.95" y="1745.30" width="10.25" height="11.25" fill="#fff" stroke="#000" stroke-width="1.9"/><path d="M604.08 1749.32V1754.88" stroke="#000" stroke-width="1.50"/></g>
<g><polygon points="198.27,1809.20 277.38,1809.20 272.88,1829.25 202.77,1829.25" fill="#676767" stroke="#000" stroke-width="1.9" stroke-linejoin="round"/><rect x="192.65" y="1802.65" width="92.60" height="5.60" fill="#444444" stroke="#000" stroke-width="1.9"/><rect x="213.27" y="1829.25" width="48.50" height="20.25" fill="#d6d6d6" stroke="#000" stroke-width="1.9"/><rect x="220.17" y="1849.50" width="10.25" height="11.25" fill="#fff" stroke="#000" stroke-width="1.9"/><path d="M222.60 1856.30H228.00M225.30 1853.60V1859.00" stroke="#000" stroke-width="1.50"/><rect x="245.45" y="1849.50" width="10.25" height="11.25" fill="#fff" stroke="#000" stroke-width="1.9"/><path d="M250.57 1853.52V1859.08" stroke="#000" stroke-width="1.50"/></g>
<g><polygon points="315.88,1809.20 394.98,1809.20 390.48,1829.25 320.38,1829.25" fill="#676767" stroke="#000" stroke-width="1.9" stroke-linejoin="round"/><rect x="310.25" y="1802.65" width="92.60" height="5.60" fill="#444444" stroke="#000" stroke-width="1.9"/><rect x="330.88" y="1829.25" width="48.50" height="20.25" fill="#d6d6d6" stroke="#000" stroke-width="1.9"/><rect x="337.77" y="1849.50" width="10.25" height="11.25" fill="#fff" stroke="#000" stroke-width="1.9"/><path d="M340.20 1856.30H345.60M342.90 1853.60V1859.00" stroke="#000" stroke-width="1.50"/><rect x="363.05" y="1849.50" width="10.25" height="11.25" fill="#fff" stroke="#000" stroke-width="1.9"/><path d="M368.18 1853.52V1859.08" stroke="#000" stroke-width="1.50"/></g>
<g><polygon points="433.88,1809.20 512.97,1809.20 508.48,1829.25 438.38,1829.25" fill="#676767" stroke="#000" stroke-width="1.9" stroke-linejoin="round"/><rect x="428.25" y="1802.65" width="92.60" height="5.60" fill="#444444" stroke="#000" stroke-width="1.9"/><rect x="448.88" y="1829.25" width="48.50" height="20.25" fill="#d6d6d6" stroke="#000" stroke-width="1.9"/><rect x="455.77" y="1849.50" width="10.25" height="11.25" fill="#fff" stroke="#000" stroke-width="1.9"/><path d="M458.20 1856.30H463.60M460.90 1853.60V1859.00" stroke="#000" stroke-width="1.50"/><rect x="481.05" y="1849.50" width="10.25" height="11.25" fill="#fff" stroke="#000" stroke-width="1.9"/><path d="M486.18 1853.52V1859.08" stroke="#000" stroke-width="1.50"/></g>
<g><polygon points="551.78,1809.20 630.88,1809.20 626.38,1829.25 556.28,1829.25" fill="#676767" stroke="#000" stroke-width="1.9" stroke-linejoin="round"/><rect x="546.15" y="1802.65" width="92.60" height="5.60" fill="#444444" stroke="#000" stroke-width="1.9"/><rect x="566.78" y="1829.25" width="48.50" height="20.25" fill="#d6d6d6" stroke="#000" stroke-width="1.9"/><rect x="573.68" y="1849.50" width="10.25" height="11.25" fill="#fff" stroke="#000" stroke-width="1.9"/><path d="M576.10 1856.30H581.50M578.80 1853.60V1859.00" stroke="#000" stroke-width="1.50"/><rect x="598.95" y="1849.50" width="10.25" height="11.25" fill="#fff" stroke="#000" stroke-width="1.9"/><path d="M604.08 1853.52V1859.08" stroke="#000" stroke-width="1.50"/></g>
<g><polygon points="198.27,1913.50 277.38,1913.50 272.88,1933.55 202.77,1933.55" fill="#676767" stroke="#000" stroke-width="1.9" stroke-linejoin="round"/><rect x="192.65" y="1906.95" width="92.60" height="5.60" fill="#444444" stroke="#000" stroke-width="1.9"/><rect x="213.27" y="1933.55" width="48.50" height="20.25" fill="#d6d6d6" stroke="#000" stroke-width="1.9"/><rect x="220.17" y="1953.80" width="10.25" height="11.25" fill="#fff" stroke="#000" stroke-width="1.9"/><path d="M222.60 1960.60H228.00M225.30 1957.90V1963.30" stroke="#000" stroke-width="1.50"/><rect x="245.45" y="1953.80" width="10.25" height="11.25" fill="#fff" stroke="#000" stroke-width="1.9"/><path d="M250.57 1957.82V1963.38" stroke="#000" stroke-width="1.50"/></g>
<g><polygon points="315.88,1913.50 394.98,1913.50 390.48,1933.55 320.38,1933.55" fill="#676767" stroke="#000" stroke-width="1.9" stroke-linejoin="round"/><rect x="310.25" y="1906.95" width="92.60" height="5.60" fill="#444444" stroke="#000" stroke-width="1.9"/><rect x="330.88" y="1933.55" width="48.50" height="20.25" fill="#d6d6d6" stroke="#000" stroke-width="1.9"/><rect x="337.77" y="1953.80" width="10.25" height="11.25" fill="#fff" stroke="#000" stroke-width="1.9"/><path d="M340.20 1960.60H345.60M342.90 1957.90V1963.30" stroke="#000" stroke-width="1.50"/><rect x="363.05" y="1953.80" width="10.25" height="11.25" fill="#fff" stroke="#000" stroke-width="1.9"/><path d="M368.18 1957.82V1963.38" stroke="#000" stroke-width="1.50"/></g>
<g><polygon points="433.88,1913.50 512.97,1913.50 508.48,1933.55 438.38,1933.55" fill="#676767" stroke="#000" stroke-width="1.9" stroke-linejoin="round"/><rect x="428.25" y="1906.95" width="92.60" height="5.60" fill="#444444" stroke="#000" stroke-width="1.9"/><rect x="448.88" y="1933.55" width="48.50" height="20.25" fill="#d6d6d6" stroke="#000" stroke-width="1.9"/><rect x="455.77" y="1953.80" width="10.25" height="11.25" fill="#fff" stroke="#000" stroke-width="1.9"/><path d="M458.20 1960.60H463.60M460.90 1957.90V1963.30" stroke="#000" stroke-width="1.50"/><rect x="481.05" y="1953.80" width="10.25" height="11.25" fill="#fff" stroke="#000" stroke-width="1.9"/><path d="M486.18 1957.82V1963.38" stroke="#000" stroke-width="1.50"/></g>
<g><polygon points="551.78,1913.50 630.88,1913.50 626.38,1933.55 556.28,1933.55" fill="#676767" stroke="#000" stroke-width="1.9" stroke-linejoin="round"/><rect x="546.15" y="1906.95" width="92.60" height="5.60" fill="#444444" stroke="#000" stroke-width="1.9"/><rect x="566.78" y="1933.55" width="48.50" height="20.25" fill="#d6d6d6" stroke="#000" stroke-width="1.9"/><rect x="573.68" y="1953.80" width="10.25" height="11.25" fill="#fff" stroke="#000" stroke-width="1.9"/><path d="M576.10 1960.60H581.50M578.80 1957.90V1963.30" stroke="#000" stroke-width="1.50"/><rect x="598.95" y="1953.80" width="10.25" height="11.25" fill="#fff" stroke="#000" stroke-width="1.9"/><path d="M604.08 1957.82V1963.38" stroke="#000" stroke-width="1.50"/></g>
<circle cx="83.4" cy="1831" r="6.85" fill="#fff" stroke="#000" stroke-width="2.9"/>
<path d="M79.25 1831H87.55M83.4 1826.85V1835.15" stroke="#000" stroke-width="2.17"/>
<circle cx="83.6" cy="2019" r="6.85" fill="#fff" stroke="#000" stroke-width="2.9"/>
<path d="M79.45 2019H87.75" stroke="#000" stroke-width="2.17"/>
<text x="123.13" y="1648.30" font-size="16" textLength="71.23" lengthAdjust="spacingAndGlyphs" fill="#c2c2c2" font-weight="bold" stroke="#c2c2c2" stroke-width="0.25" stroke-linejoin="round">STRING1</text>
<text x="122.82" y="1749.30" font-size="16" textLength="72.86" lengthAdjust="spacingAndGlyphs" fill="#c2c2c2" font-weight="bold" stroke="#c2c2c2" stroke-width="0.25" stroke-linejoin="round">STRING2</text>
<text x="122.72" y="1850.50" font-size="16" textLength="72.08" lengthAdjust="spacingAndGlyphs" fill="#c2c2c2" font-weight="bold" stroke="#c2c2c2" stroke-width="0.25" stroke-linejoin="round">STRING3</text>
<text x="122.82" y="1959.20" font-size="16" textLength="71.97" lengthAdjust="spacingAndGlyphs" fill="#c2c2c2" font-weight="bold" stroke="#c2c2c2" stroke-width="0.25" stroke-linejoin="round">STRING4</text>
<text x="272.46" y="1647.50" font-size="21" textLength="30.14" lengthAdjust="spacingAndGlyphs" fill="#1c1c1c" font-weight="bold" stroke="#1c1c1c" stroke-width="0.25" stroke-linejoin="round">4Ω</text>
<text x="393.66" y="1647.50" font-size="21" textLength="30.55" lengthAdjust="spacingAndGlyphs" fill="#1c1c1c" font-weight="bold" stroke="#1c1c1c" stroke-width="0.25" stroke-linejoin="round">4Ω</text>
<text x="517.37" y="1647.50" font-size="21" textLength="29.93" lengthAdjust="spacingAndGlyphs" fill="#1c1c1c" font-weight="bold" stroke="#1c1c1c" stroke-width="0.25" stroke-linejoin="round">4Ω</text>
<text x="634.67" y="1647.50" font-size="21" textLength="29.72" lengthAdjust="spacingAndGlyphs" fill="#1c1c1c" font-weight="bold" stroke="#1c1c1c" stroke-width="0.25" stroke-linejoin="round">4Ω</text>
<text x="277.36" y="1759.70" font-size="21" textLength="30.24" lengthAdjust="spacingAndGlyphs" fill="#1c1c1c" font-weight="bold" stroke="#1c1c1c" stroke-width="0.25" stroke-linejoin="round">4Ω</text>
<text x="398.88" y="1759.70" font-size="21" textLength="28.68" lengthAdjust="spacingAndGlyphs" fill="#1c1c1c" font-weight="bold" stroke="#1c1c1c" stroke-width="0.25" stroke-linejoin="round">4Ω</text>
<text x="521.67" y="1759.70" font-size="21" textLength="29.61" lengthAdjust="spacingAndGlyphs" fill="#1c1c1c" font-weight="bold" stroke="#1c1c1c" stroke-width="0.25" stroke-linejoin="round">4Ω</text>
<text x="639.67" y="1759.70" font-size="21" textLength="29.82" lengthAdjust="spacingAndGlyphs" fill="#1c1c1c" font-weight="bold" stroke="#1c1c1c" stroke-width="0.25" stroke-linejoin="round">4Ω</text>
<text x="277.37" y="1861.80" font-size="21" textLength="30.03" lengthAdjust="spacingAndGlyphs" fill="#1c1c1c" font-weight="bold" stroke="#1c1c1c" stroke-width="0.25" stroke-linejoin="round">4Ω</text>
<text x="398.26" y="1861.80" font-size="21" textLength="30.55" lengthAdjust="spacingAndGlyphs" fill="#1c1c1c" font-weight="bold" stroke="#1c1c1c" stroke-width="0.25" stroke-linejoin="round">4Ω</text>
<text x="521.67" y="1861.80" font-size="21" textLength="29.61" lengthAdjust="spacingAndGlyphs" fill="#1c1c1c" font-weight="bold" stroke="#1c1c1c" stroke-width="0.25" stroke-linejoin="round">4Ω</text>
<text x="639.67" y="1861.80" font-size="21" textLength="29.82" lengthAdjust="spacingAndGlyphs" fill="#1c1c1c" font-weight="bold" stroke="#1c1c1c" stroke-width="0.25" stroke-linejoin="round">4Ω</text>
<text x="278.86" y="1971.50" font-size="21" textLength="30.45" lengthAdjust="spacingAndGlyphs" fill="#1c1c1c" font-weight="bold" stroke="#1c1c1c" stroke-width="0.25" stroke-linejoin="round">4Ω</text>
<text x="400.17" y="1971.50" font-size="21" textLength="30.03" lengthAdjust="spacingAndGlyphs" fill="#1c1c1c" font-weight="bold" stroke="#1c1c1c" stroke-width="0.25" stroke-linejoin="round">4Ω</text>
<text x="523.47" y="1971.50" font-size="21" textLength="29.41" lengthAdjust="spacingAndGlyphs" fill="#1c1c1c" font-weight="bold" stroke="#1c1c1c" stroke-width="0.25" stroke-linejoin="round">4Ω</text>
<text x="640.67" y="1971.50" font-size="21" textLength="29.82" lengthAdjust="spacingAndGlyphs" fill="#1c1c1c" font-weight="bold" stroke="#1c1c1c" stroke-width="0.25" stroke-linejoin="round">4Ω</text>
<text x="6.34" y="2064.00" font-size="22" textLength="424.56" lengthAdjust="spacingAndGlyphs" fill="#1c1c1c" font-weight="bold" stroke="#1c1c1c" stroke-width="0.25" stroke-linejoin="round">(a.) Calculate the series speakers first.</text>
<text x="437.37" y="2064.00" font-size="22" textLength="271.80" lengthAdjust="spacingAndGlyphs" fill="#1c1c1c" stroke="#1c1c1c" stroke-width="0.5" stroke-linejoin="round">In this example, this is just</text>
<text x="6.97" y="2090.00" font-size="22" textLength="359.53" lengthAdjust="spacingAndGlyphs" fill="#1c1c1c" stroke="#1c1c1c" stroke-width="0.5" stroke-linejoin="round">4Ω x 4 = 16Ω for each series string</text>
<text x="6.36" y="2129.00" font-size="22" textLength="616.22" lengthAdjust="spacingAndGlyphs" fill="#1c1c1c" font-weight="bold" stroke="#1c1c1c" stroke-width="0.25" stroke-linejoin="round">(b.) Find the parallel speaker Ohms for the series values.</text>
<rect x="109.4" y="2143.2" width="508.10" height="113.70" fill="#fefe00"/>
<text x="121.57" y="2204.40" font-size="22.5" textLength="90.03" lengthAdjust="spacingAndGlyphs" fill="#1c1c1c" font-weight="bold" stroke="#1c1c1c" stroke-width="0.25" stroke-linejoin="round">Rtotal =</text>
<rect x="223" y="2193.2" width="303.70" height="3.80" fill="#111"/>
<polygon points="371.33,2165.80 375.21,2165.80 375.21,2182.60 371.60,2182.60 371.60,2169.78 368.07,2171.85 366.85,2169.92" fill="#111"/>
<text x="230.06" y="2226.90" font-size="22.5" textLength="285.46" lengthAdjust="spacingAndGlyphs" fill="#1c1c1c" stroke="#1c1c1c" stroke-width="0.5" stroke-linejoin="round">1/16 + 1/16 + 1/16 + 1/16</text>
<text x="539.58" y="2207.00" font-size="22.5" textLength="54.41" lengthAdjust="spacingAndGlyphs" fill="#1c1c1c" font-weight="bold" stroke="#1c1c1c" stroke-width="0.25" stroke-linejoin="round">= 4Ω</text>
<text x="289.77" y="2278.40" font-size="13.8" textLength="140.48" lengthAdjust="spacingAndGlyphs" fill="#b3c7dc" stroke="#b3c7dc" stroke-width="0.45" stroke-linejoin="round">SoundCertified.com</text>
</svg></body></html>
